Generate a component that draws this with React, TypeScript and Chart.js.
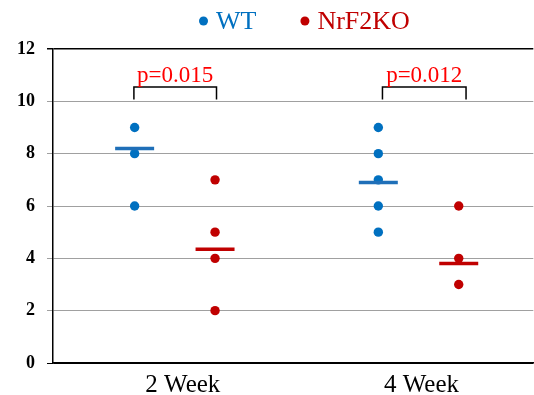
import React, { useEffect, useRef } from "react";
import { Chart, registerables } from "chart.js";

Chart.register(...registerables);

// ---- data ----
const categories = ["2 Week", "4 Week"];
const seriesNames = ["WT", "NrF2KO"];
const wtValues = [
  [9, 8, 6],
  [9, 8, 7, 6, 5],
];
const koValues = [
  [7, 5, 4, 2],
  [6, 4, 3],
];
const wtMeans = [8.2, 6.9];
const koMeans = [4.35, 3.8];
const pLabels = ["p=0.015", "p=0.012"];
const yTickValues = [0, 2, 4, 6, 8, 10, 12];

// ---- styling / layout constants ----
const BLUE = "#0070C0";
const RED = "#C00000";
const P_RED = "#FF0000";
const FONT = "'Liberation Serif', 'Times New Roman', serif";
const GROUP_OFFSET = 0.165;
const MEAN_HALF = 0.08;
const BRACKET_SPANS = [
  [-0.168, 0.171],
  [-0.148, 0.195],
];
const BRACKET_TOP = 10.55;
const BRACKET_BOTTOM = 10.07;
const CANVAS_W = 538;

const overlayPlugin = {
  id: "overlay",
  afterDraw(chart: any) {
    const ctx = chart.ctx;
    const xs = chart.scales.x;
    const ys = chart.scales.y;
    ctx.save();
    // legend
    ctx.textBaseline = "alphabetic";
    ctx.font = `26px ${FONT}`;
    let lx = 199;
    const ly = 29;
    [BLUE, RED].forEach((c, i) => {
      ctx.fillStyle = c;
      ctx.beginPath();
      ctx.arc(lx + 4.5, ly - 8, 4.5, 0, Math.PI * 2);
      ctx.fill();
      ctx.textAlign = "left";
      ctx.fillText(seriesNames[i], lx + 17, ly);
      lx += 17 + ctx.measureText(seriesNames[i]).width + 44;
    });
    // brackets and p values
    categories.forEach((_, i) => {
      const c = i + 1;
      const x1 = xs.getPixelForValue(c + BRACKET_SPANS[i][0]);
      const x2 = xs.getPixelForValue(c + BRACKET_SPANS[i][1]);
      const yt = ys.getPixelForValue(BRACKET_TOP);
      const yb = ys.getPixelForValue(BRACKET_BOTTOM);
      ctx.strokeStyle = "#000";
      ctx.lineWidth = 1.5;
      ctx.beginPath();
      ctx.moveTo(x1, yb);
      ctx.lineTo(x1, yt);
      ctx.lineTo(x2, yt);
      ctx.lineTo(x2, yb);
      ctx.stroke();
      ctx.fillStyle = P_RED;
      ctx.font = `23px ${FONT}`;
      ctx.textAlign = "center";
      ctx.fillText(pLabels[i], (x1 + x2) / 2, yt - 5);
    });
    // category labels
    ctx.fillStyle = "#000";
    ctx.font = `25px ${FONT}`;
    ctx.textAlign = "center";
    categories.forEach((cat, i) => {
      ctx.fillText(cat, xs.getPixelForValue(i + 1) + (i === 0 ? 8 : 3), 392);
    });
    ctx.restore();
  },
};

export default function App() {
  const ref = useRef<HTMLCanvasElement>(null);
  useEffect(() => {
    document.body.style.margin = "0";
    document.documentElement.style.overflow = "hidden";
    document.body.style.overflow = "hidden";
    const wtPts: any[] = [];
    const koPts: any[] = [];
    categories.forEach((_, i) => {
      wtValues[i].forEach((v) => wtPts.push({ x: i + 1 - GROUP_OFFSET, y: v }));
      koValues[i].forEach((v) => koPts.push({ x: i + 1 + GROUP_OFFSET, y: v }));
    });
    const meanSets: any[] = [];
    categories.forEach((_, i) => {
      const cw = i + 1 - GROUP_OFFSET;
      const ck = i + 1 + GROUP_OFFSET;
      meanSets.push({
        type: "line",
        data: [
          { x: cw - MEAN_HALF, y: wtMeans[i] },
          { x: cw + MEAN_HALF, y: wtMeans[i] },
        ],
        borderColor: "#1F6FB8",
        borderWidth: 3.5,
        pointRadius: 0,
        order: 0,
      });
      meanSets.push({
        type: "line",
        data: [
          { x: ck - MEAN_HALF, y: koMeans[i] },
          { x: ck + MEAN_HALF, y: koMeans[i] },
        ],
        borderColor: RED,
        borderWidth: 3.5,
        pointRadius: 0,
        order: 0,
      });
    });
    const chart = new Chart(ref.current!, {
      type: "scatter",
      data: {
        datasets: [
          {
            label: seriesNames[0],
            data: wtPts,
            backgroundColor: BLUE,
            borderColor: BLUE,
            pointRadius: 4.7,
            borderWidth: 0,
            order: 1,
          },
          {
            label: seriesNames[1],
            data: koPts,
            backgroundColor: RED,
            borderColor: RED,
            pointRadius: 4.7,
            borderWidth: 0,
            order: 1,
          },
          ...meanSets,
        ],
      },
      options: {
        animation: false,
        responsive: false,
        devicePixelRatio: 1,
        layout: { padding: { top: 49, left: 0, right: 0, bottom: 0 } },
        plugins: { legend: { display: false }, tooltip: { enabled: false } },
        scales: {
          x: {
            type: "linear",
            min: 0.5,
            max: 2.471,
            grid: { display: false },
            border: { color: "#000", width: 1.5 },
            ticks: { display: false },
            afterFit: (s: any) => {
              s.height = 32;
            },
          },
          y: {
            min: 0,
            max: 12,
            afterBuildTicks: (s: any) => {
              s.ticks = yTickValues.map((v) => ({ value: v }));
            },
            grid: {
              color: (c: any) =>
                c.tick && (c.tick.value === 12 || c.tick.value === 0) ? "#000" : "#A0A0A0",
              lineWidth: (c: any) => (c.tick && c.tick.value === 12 ? 1.5 : 1),
              tickLength: 6,
            },
            border: { color: "#000", width: 1.5 },
            ticks: {
              padding: 12,
              color: "#000",
              font: { family: FONT, size: 18, weight: "bold" },
            },
            afterFit: (s: any) => {
              s.width = 53;
            },
          },
        },
      },
      plugins: [overlayPlugin],
    } as any);
    return () => chart.destroy();
  }, []);
  return (
    <div style={{ position: "fixed", left: 0, top: 0, width: 534, height: 395, overflow: "hidden" }}>
      <canvas ref={ref} width={CANVAS_W} height={395} style={{ width: CANVAS_W, height: 395 }} />
    </div>
  );
}
